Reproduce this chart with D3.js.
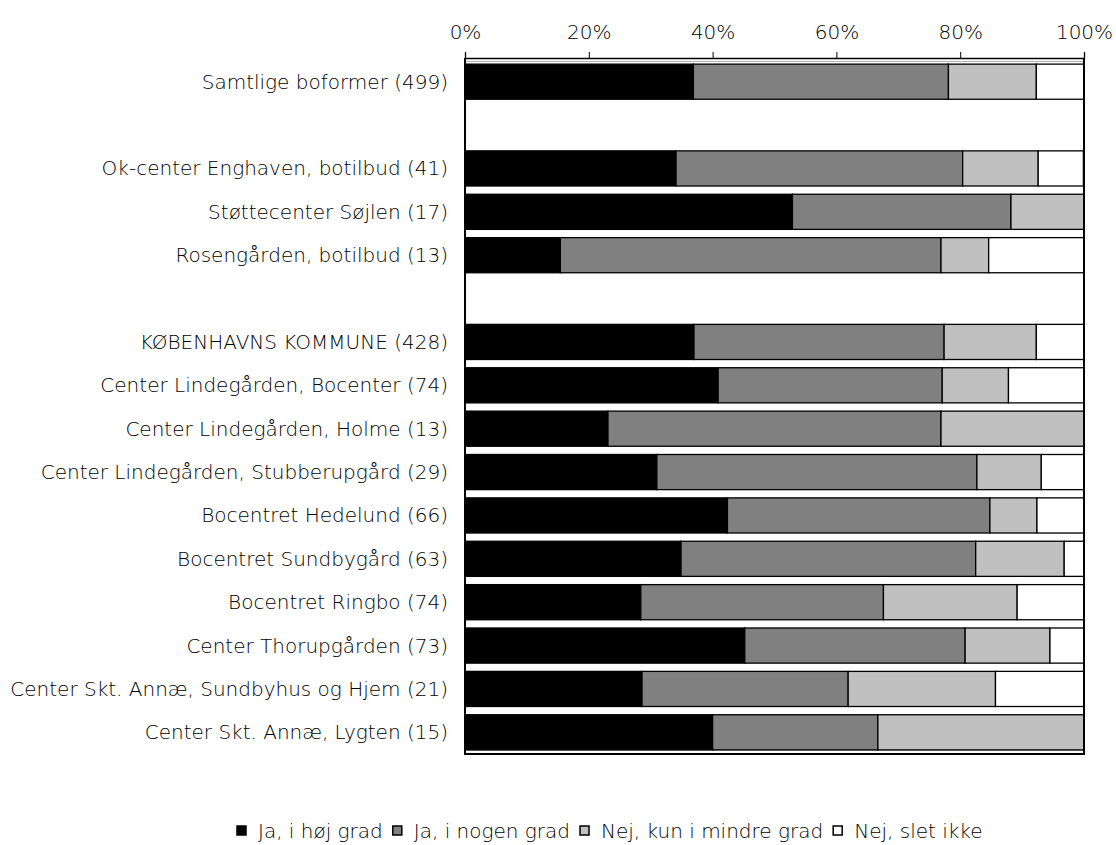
<!DOCTYPE html>
<html><head><meta charset="utf-8">
<script src="https://cdn.jsdelivr.net/npm/d3@7"></script>
<style>body{margin:0;background:#fff;} svg{display:block;} text{font-family:"DejaVu Sans",sans-serif;font-weight:200;fill:#000;}</style>
</head><body>
<svg id="chart" width="1116" height="845"></svg>
<script>
const categories = [
  "Samtlige boformer (499)", "", "Ok-center Enghaven, botilbud (41)", "Støttecenter Søjlen (17)",
  "Rosengården, botilbud (13)", " ", "KØBENHAVNS KOMMUNE (428)", "Center Lindegården, Bocenter (74)",
  "Center Lindegården, Holme (13)", "Center Lindegården, Stubberupgård (29)", "Bocentret Hedelund (66)",
  "Bocentret Sundbygård (63)", "Bocentret Ringbo (74)", "Center Thorupgården (73)",
  "Center Skt. Annæ, Sundbyhus og Hjem (21)", "Center Skt. Annæ, Lygten (15)"
];
const seriesNames = ["Ja, i høj grad", "Ja, i nogen grad", "Nej, kun i mindre grad", "Nej, slet ikke"];
const jaHoej    = [36.9, null, 34.1, 52.9, 15.4, null, 37.0, 40.9, 23.1, 31.0, 42.4, 34.9, 28.4, 45.2, 28.6, 40.0];
const jaNogen   = [41.2, null, 46.3, 35.3, 61.5, null, 40.4, 36.2, 53.8, 51.7, 42.4, 47.6, 39.2, 35.6, 33.3, 26.7];
const nejMindre = [14.2, null, 12.2, 11.8,  7.7, null, 14.9, 10.7, 23.1, 10.4,  7.6, 14.3, 21.6, 13.7, 23.8, 33.3];
const nejSlet   = [ 7.7, null,  7.3,  0.0, 15.4, null,  7.7, 12.2,  0.0,  6.9,  7.6,  3.2, 10.8,  5.5, 14.3,  0.0];
const tickValues = [0, 20, 40, 60, 80, 100];
const colors = ["#000000", "#808080", "#c0c0c0", "#ffffff"];

(function () {
const svg = d3.select("#chart");
const mLeft = 465, mRight = 1084, mTop = 60, mBottom = 754;
const x = d3.scaleLinear().domain([0, 100]).range([mLeft, mRight]);
const y = d3.scaleBand().domain(categories).range([mTop, mBottom]).paddingInner(0.19).paddingOuter(0.095);

const rows = categories.map((c, i) => ({cat: c, vals: [jaHoej[i], jaNogen[i], nejMindre[i], nejSlet[i]]}))
  .filter(r => r.vals[0] !== null);
const segs = [];
rows.forEach(r => {
  let acc = 0;
  r.vals.forEach((v, k) => { segs.push({cat: r.cat, k, x0: acc, x1: acc + v}); acc += v; });
});

// thin inner plot-area lines
svg.append("line").attr("x1", mLeft).attr("x2", mRight).attr("y1", mTop + 1.5).attr("y2", mTop + 1.5)
  .attr("stroke", "#b0b0b0").attr("stroke-width", 1);
svg.append("line").attr("x1", mLeft).attr("x2", mRight).attr("y1", mBottom - 3.5).attr("y2", mBottom - 3.5)
  .attr("stroke", "#b0b0b0").attr("stroke-width", 1);

svg.append("g").selectAll("rect").data(segs.filter(s => s.x1 - s.x0 > 0.01)).join("rect")
  .attr("x", d => x(d.x0)).attr("width", d => x(Math.min(100, d.x1)) - x(d.x0))
  .attr("y", d => y(d.cat)).attr("height", y.bandwidth())
  .attr("fill", d => colors[d.k]).attr("stroke", "#000").attr("stroke-width", 1.3);

// frame
svg.append("path").attr("d", `M${mLeft},${mTop - 2}V${mBottom}H${mRight}V${mTop - 2}`)
  .attr("fill", "none").attr("stroke", "#000").attr("stroke-width", 2);

// fit font size so the longest label spans like the reference
const probe = svg.append("text").style("font-size", "16px").text("Center Skt. Annæ, Sundbyhus og Hjem (21)");
const fs = 16 * 438 / probe.node().getComputedTextLength();
probe.remove();

// top axis
const ax = svg.append("g").attr("transform", `translate(0,${mTop - 2})`)
  .call(d3.axisTop(x).tickValues(tickValues).tickFormat(d => d + "%").tickSize(6).tickPadding(13));
ax.select(".domain").attr("stroke", "#000").attr("stroke-width", 1.3);
ax.selectAll(".tick line").attr("stroke", "#000");
ax.selectAll("text").style("font-family", "'DejaVu Sans', sans-serif").style("font-weight", 200)
  .style("font-size", fs + "px").attr("fill", "#000");

// category labels
svg.append("g").selectAll("text").data(rows).join("text")
  .attr("x", mLeft - 17).attr("y", d => y(d.cat) + y.bandwidth() / 2)
  .attr("dy", "0.35em").attr("text-anchor", "end").style("font-size", fs + "px").text(d => d.cat);

// legend
const lg = svg.append("g").attr("transform", "translate(0,831)");
let lx = 237;
seriesNames.forEach((n, k) => {
  lg.append("rect").attr("x", lx).attr("y", -5).attr("width", 9).attr("height", 9)
    .attr("fill", colors[k]).attr("stroke", "#000").attr("stroke-width", 1.5);
  const t = lg.append("text").attr("x", lx + 21).attr("y", 0).attr("dy", "0.35em")
    .style("font-size", fs + "px").text(n);
  lx += 21 + t.node().getComputedTextLength() + 10;
});
})();
</script>
</body></html>
